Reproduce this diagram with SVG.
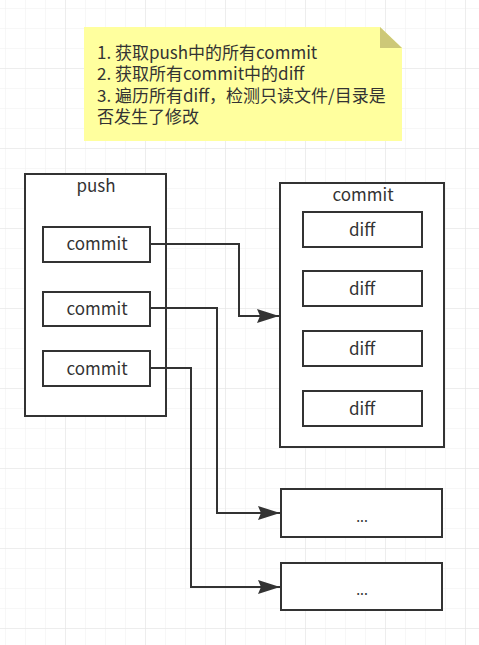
<svg xmlns="http://www.w3.org/2000/svg" width="479" height="645" viewBox="0 0 479 645">
<defs>
<pattern id="minor" x="5" y="8" width="20" height="20" patternUnits="userSpaceOnUse">
<path d="M0,0 H20 M0,0 V20" fill="none" stroke="#f0f0f0" stroke-width="1"/>
</pattern>
<pattern id="major" x="65" y="68" width="80" height="80" patternUnits="userSpaceOnUse">
<path d="M0,0 H80 M0,0 V80" fill="none" stroke="#e4e4e4" stroke-width="1"/>
</pattern>
<marker id="arrow" viewBox="0 0 22 14" refX="22" refY="7" markerWidth="22" markerHeight="14" markerUnits="userSpaceOnUse" orient="auto">
<path d="M0,0 L22,7 L0,14 L3,7 Z" fill="#333"/>
</marker>
<style>
.box{fill:#fff;stroke:#333;stroke-width:2}
.lbl{font-family:"Noto Sans CJK SC","Noto Sans",sans-serif;font-size:17px;fill:#333;text-anchor:middle}
.note{font-family:"Noto Sans CJK SC","Noto Sans",sans-serif;font-size:17px;fill:#333}
.conn{fill:none;stroke:#333;stroke-width:2}
</style>
</defs>
<rect width="479" height="645" fill="#fff"/>
<rect width="479" height="645" fill="url(#minor)"/>
<rect width="479" height="645" fill="url(#major)"/>

<g id="note">
<path d="M84,27 H380 L402,48 V141 H84 Z" fill="#ffff9e"/>
<path d="M380,27 L380,48 L402,48 Z" fill="#cdc878"/>
<text class="note" x="97" y="59"><tspan x="97" y="59">1. 获取push中的所有commit</tspan><tspan x="97" y="80">2. 获取所有commit中的diff</tspan><tspan x="97" y="102">3. 遍历所有diff，检测只读文件/目录是</tspan><tspan x="97" y="123">否发生了修改</tspan></text>
</g>

<g id="push">
<rect class="box" x="25" y="174" width="141" height="242"/>
<text class="lbl" x="96" y="192">push</text>
</g>
<g id="commit-1">
<rect class="box" x="43" y="227" width="107" height="35"/>
<text class="lbl" x="97" y="250">commit</text>
</g>
<g id="commit-2">
<rect class="box" x="43" y="292" width="107" height="34"/>
<text class="lbl" x="97" y="315">commit</text>
</g>
<g id="commit-3">
<rect class="box" x="43" y="351" width="107" height="35"/>
<text class="lbl" x="97" y="375">commit</text>
</g>

<g id="commit-right">
<rect class="box" x="280" y="183" width="164" height="264"/>
<text class="lbl" x="363" y="201">commit</text>
</g>
<g id="diff-1">
<rect class="box" x="303" y="212" width="119" height="35"/>
<text class="lbl" x="362" y="236">diff</text>
</g>
<g id="diff-2">
<rect class="box" x="303" y="271" width="119" height="35"/>
<text class="lbl" x="362" y="295">diff</text>
</g>
<g id="diff-3">
<rect class="box" x="303" y="331" width="119" height="35"/>
<text class="lbl" x="362" y="355">diff</text>
</g>
<g id="diff-4">
<rect class="box" x="303" y="391" width="119" height="35"/>
<text class="lbl" x="362" y="415">diff</text>
</g>

<g id="more-1">
<rect class="box" x="281" y="489" width="161" height="48"/>
<text class="lbl" x="362" y="522" style="font-size:14px">...</text>
</g>
<g id="more-2">
<rect class="box" x="281" y="563" width="161" height="47"/>
<text class="lbl" x="362" y="595" style="font-size:14px">...</text>
</g>

<g id="connectors">
<path class="conn" d="M150,244 H239 V316 H279" marker-end="url(#arrow)"/>
<path class="conn" d="M150,308 H217 V513 H280" marker-end="url(#arrow)"/>
<path class="conn" d="M150,368 H191 V587 H280" marker-end="url(#arrow)"/>
</g>
</svg>
